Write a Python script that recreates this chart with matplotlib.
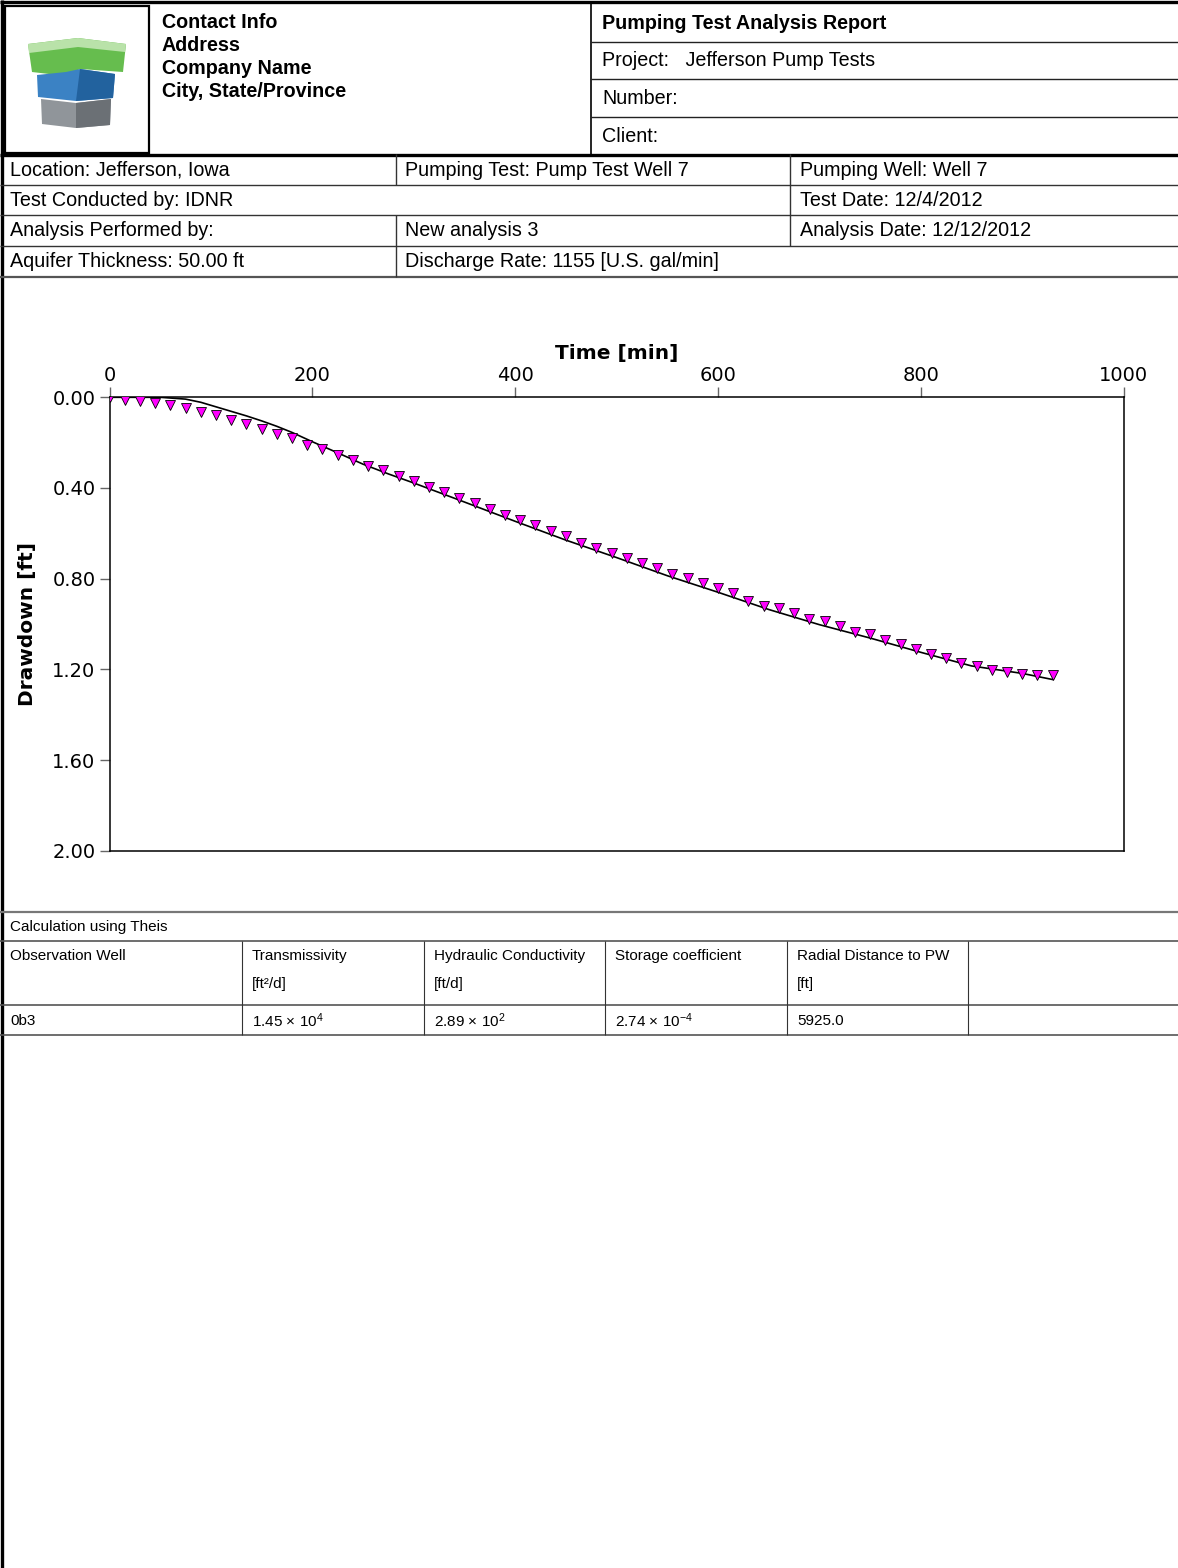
import matplotlib.pyplot as plt
from matplotlib.patches import Polygon, Rectangle

# observed drawdown, well 0b3
time_min = [0, 15, 30, 45, 60, 75, 90, 105, 120, 135, 150, 165, 180, 195, 210,
            225, 240, 255, 270, 285, 300, 315, 330, 345, 360, 375, 390, 405, 420,
            435, 450, 465, 480, 495, 510, 525, 540, 555, 570, 585, 600, 615, 630,
            645, 660, 675, 690, 705, 720, 735, 750, 765, 780, 795, 810, 825, 840,
            855, 870, 885, 900, 915, 930]
drawdown_ft = [0.000, 0.011, 0.016, 0.024, 0.034, 0.048, 0.066, 0.079, 0.099, 0.118,
               0.140, 0.162, 0.180, 0.209, 0.228, 0.254, 0.276, 0.302, 0.320, 0.346,
               0.368, 0.394, 0.417, 0.443, 0.465, 0.494, 0.517, 0.543, 0.565, 0.591,
               0.613, 0.644, 0.666, 0.688, 0.710, 0.732, 0.754, 0.780, 0.795, 0.817,
               0.843, 0.865, 0.899, 0.921, 0.930, 0.952, 0.978, 0.987, 1.009, 1.035,
               1.044, 1.071, 1.088, 1.110, 1.132, 1.150, 1.172, 1.185, 1.202, 1.211,
               1.220, 1.224, 1.224]

# Theis type curve
curve_time = [0, 50, 75, 90, 105, 120, 135, 150, 165, 180, 200, 225, 250, 275, 300,
              350, 400, 450, 500, 550, 600, 650, 700, 750, 800, 850, 900, 930]
curve_drawdown = [0.0, 0.0, 0.008, 0.022, 0.042, 0.062, 0.082, 0.104, 0.128, 0.155,
                  0.196, 0.245, 0.295, 0.338, 0.378, 0.462, 0.547, 0.630, 0.707,
                  0.787, 0.860, 0.936, 1.003, 1.062, 1.125, 1.185, 1.218, 1.245]

x_ticks = [0, 200, 400, 600, 800, 1000]
y_ticks = [0.0, 0.4, 0.8, 1.2, 1.6, 2.0]

company_lines = ["Contact Info", "Address", "Company Name", "City, State/Province"]
report_lines = ["Pumping Test Analysis Report", "Project:   Jefferson Pump Tests",
                "Number:", "Client:"]
info_col1 = ["Location: Jefferson, Iowa", "Test Conducted by: IDNR",
             "Analysis Performed by:", "Aquifer Thickness: 50.00 ft"]
info_col2 = ["Pumping Test: Pump Test Well 7", "", "New analysis 3",
             "Discharge Rate: 1155 [U.S. gal/min]"]
info_col3 = ["Pumping Well: Well 7", "Test Date: 12/4/2012",
             "Analysis Date: 12/12/2012", ""]

table_title = "Calculation using Theis"
table_heads = ["Observation Well", "Transmissivity", "Hydraulic Conductivity",
               "Storage coefficient", "Radial Distance to PW", ""]
table_units = ["", "[ft²/d]", "[ft/d]", "", "[ft]", ""]
table_row = ["0b3", "1.45 × 10$^{4}$", "2.89 × 10$^{2}$", "2.74 × 10$^{-4}$",
             "5925.0", ""]

plt.rcParams['mathtext.fontset'] = 'custom'
plt.rcParams['mathtext.rm'] = 'Liberation Sans'
plt.rcParams['mathtext.it'] = 'Liberation Sans:italic'
plt.rcParams['mathtext.bf'] = 'Liberation Sans:bold'

W, H = 1178, 1568
fig = plt.figure(figsize=(W / 100, H / 100), dpi=100)

# page in pixel coordinates
page = fig.add_axes([0, 0, 1, 1])
page.set_xlim(0, W)
page.set_ylim(H, 0)
page.axis('off')


def hline(y, x0, x1, lw=1.0, c='#333333'):
    page.plot([x0, x1], [y, y], color=c, lw=lw, solid_capstyle='butt')


def vline(x, y0, y1, lw=1.0, c='#333333'):
    page.plot([x, x], [y0, y1], color=c, lw=lw, solid_capstyle='butt')


sans = 'Liberation Sans'
hfs = 14.2   # header font size
tfs = 11     # results table font size

# borders of header
hline(2, 0, W, lw=2.4, c='black')
vline(1.5, 0, H, lw=2.4, c='black')
page.add_patch(Rectangle((5, 6), 143.5, 147, fill=False, ec='black', lw=1.6))
vline(591, 2, 154, lw=1.2, c='black')
for y in [42, 79, 117]:
    hline(y, 591, W, lw=1.0, c='#222222')
hline(154.5, 0, W, lw=2.4, c='black')

# logo
page.add_patch(Polygon([(28, 44), (78, 38), (126, 44), (123, 72), (80, 69), (66, 76), (32, 72)],
                       closed=True, fc='#66bd4e', ec='none'))
page.add_patch(Polygon([(28, 44), (78, 38), (126, 44), (125, 52), (78, 47), (29, 53)],
                       closed=True, fc='#b9e2a9', ec='none'))
page.add_patch(Polygon([(37, 75), (66, 72), (80, 69), (115, 74), (113, 98), (76, 101), (38, 97)],
                       closed=True, fc='#3b82c4', ec='none'))
page.add_patch(Polygon([(80, 69), (115, 74), (113, 98), (76, 101)],
                       closed=True, fc='#22629e', ec='none'))
page.add_patch(Polygon([(41, 99), (76, 103), (111, 99), (110, 125), (76, 128), (42, 124)],
                       closed=True, fc='#90959a', ec='none'))
page.add_patch(Polygon([(76, 103), (111, 99), (110, 125), (76, 128)],
                       closed=True, fc='#6b7075', ec='none'))

for i, s in enumerate(company_lines):
    page.text(162, 22 + 23 * i, s, family=sans, fontsize=hfs, weight='bold', va='center')
for i, s in enumerate(report_lines):
    page.text(602, [23, 60, 98, 136][i], s, family=sans, fontsize=hfs,
              weight='bold' if i == 0 else 'normal', va='center')

# info rows
row_mid = [170, 200, 230, 261]
for y in [185, 215, 246]:
    hline(y, 0, W, lw=1.0, c='#333333')
hline(276.5, 0, W, lw=1.6, c='#555555')
vline(395.5, 154, 185, lw=1.0)
vline(395.5, 215, 276.5, lw=1.0)
vline(790, 154, 246, lw=1.0)
for i in range(4):
    page.text(10, row_mid[i], info_col1[i], family=sans, fontsize=hfs, va='center')
    page.text(405, row_mid[i], info_col2[i], family=sans, fontsize=hfs, va='center')
    page.text(800, row_mid[i], info_col3[i], family=sans, fontsize=hfs, va='center')

# results table
hline(912, 0, W, lw=1.6, c='#777777')
hline(941, 0, W, lw=1.2, c='#555555')
hline(1005, 0, W, lw=1.2, c='#555555')
hline(1035, 0, W, lw=1.2, c='#555555')
col_x = [0, 242, 424, 605, 787, 968]
for x in col_x[1:]:
    vline(x, 941, 1035, lw=0.8, c='#333333')
page.text(10, 927, table_title, family=sans, fontsize=tfs, va='center')
for x, h, u, r in zip(col_x, table_heads, table_units, table_row):
    page.text(x + 10, 956, h, family=sans, fontsize=tfs, va='center')
    page.text(x + 10, 984, u, family=sans, fontsize=tfs, va='center')
    page.text(x + 10, 1021, r, family=sans, fontsize=tfs, va='center')

# chart
ax = fig.add_axes([109.5 / W, 1 - 850.7 / H, (1123.7 - 109.5) / W, (850.7 - 397.3) / H])
ax.plot(curve_time, curve_drawdown, color='black', lw=1.2, zorder=2)
ax.plot(time_min, drawdown_ft, 'v', ms=7.5, mfc='#ff00ff', mec='black', mew=0.6, zorder=3)
ax.set_xlim(0, 1000)
ax.set_ylim(2.0, 0.0)
ax.xaxis.tick_top()
ax.xaxis.set_label_position('top')
ax.set_xticks(x_ticks)
ax.set_yticks(y_ticks)
ax.set_yticklabels([f"{v:.2f}" for v in y_ticks])
ax.tick_params(axis='x', length=7, width=1, color='#666666', pad=2, labelsize=14)
ax.tick_params(axis='y', length=7, width=1, color='#666666', pad=3, labelsize=14)
for sp in ax.spines.values():
    sp.set_linewidth(1.1)
ax.set_xlabel("Time [min]", fontsize=14.5, weight='bold', labelpad=5)
ax.set_ylabel("Drawdown [ft]", fontsize=14.5, weight='bold', labelpad=11)

fig.savefig("out.png", dpi=100)
